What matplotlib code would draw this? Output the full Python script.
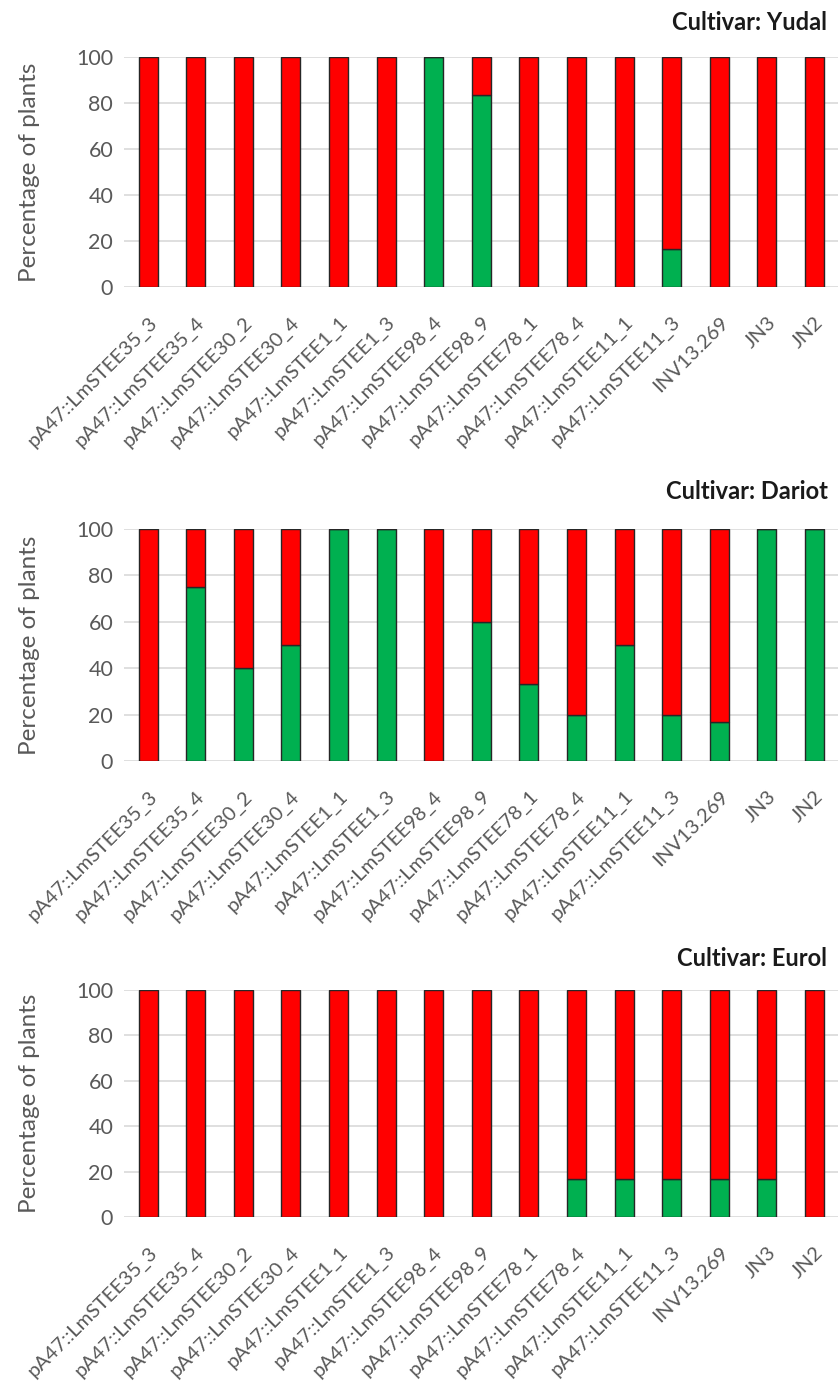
import matplotlib.pyplot as plt
import numpy as np

plt.rcParams['font.family'] = ['Lato', 'DejaVu Sans']

categories = ['pA47::LmSTEE35_3', 'pA47::LmSTEE35_4', 'pA47::LmSTEE30_2', 'pA47::LmSTEE30_4',
              'pA47::LmSTEE1_1', 'pA47::LmSTEE1_3', 'pA47::LmSTEE98_4', 'pA47::LmSTEE98_9',
              'pA47::LmSTEE78_1', 'pA47::LmSTEE78_4', 'pA47::LmSTEE11_1', 'pA47::LmSTEE11_3',
              'INV13.269', 'JN3', 'JN2']

# green part (bottom) per cultivar, red part is the rest up to 100
yudal_green = [0, 0, 0, 0, 0, 0, 100, 83.3, 0, 0, 0, 16.7, 0, 0, 0]
dariot_green = [0, 75, 40, 50, 100, 100, 0, 60, 33.3, 20, 50, 20, 16.7, 100, 100]
eurol_green = [0, 0, 0, 0, 0, 0, 0, 0, 0, 16.7, 16.7, 16.7, 16.7, 16.7, 0]

titles = ['Cultivar: Yudal', 'Cultivar: Dariot', 'Cultivar: Eurol']
yticks = [0, 20, 40, 60, 80, 100]

fig = plt.figure(figsize=(8.4, 13.85), dpi=100)
# [left, bottom, width, height] in figure fractions
boxes = [[0.148, 0.7928, 0.850, 0.166],
         [0.148, 0.4505, 0.850, 0.1675],
         [0.148, 0.1213, 0.850, 0.1639]]
title_y = [0.984, 0.645, 0.308]

grey = '#595959'
for box, green, title, ty in zip(boxes, [yudal_green, dariot_green, eurol_green], titles, title_y):
    ax = fig.add_axes(box)
    x = np.arange(len(categories))
    g = np.array(green)
    r = 100 - g
    ax.bar(x, g, width=0.4, color='#00b050', edgecolor='#262626', linewidth=1, zorder=3)
    ax.bar(x, r, bottom=g, width=0.4, color='#ff0000', edgecolor='#262626', linewidth=1, zorder=3)
    ax.set_xlim(-0.5, len(categories) - 0.5)
    ax.set_ylim(0, 100)
    ax.set_yticks(yticks)
    ax.yaxis.grid(True, color='#d9d9d9', linewidth=1.2, zorder=0)
    ax.set_axisbelow(True)
    for s in ax.spines.values():
        s.set_visible(False)
    ax.tick_params(axis='both', length=0, colors=grey)
    ax.tick_params(axis='y', pad=8, labelsize=15.5)
    ax.set_xticks(x)
    ax.set_xticklabels(categories, rotation=45, ha='right', rotation_mode='anchor', fontsize=14.5)
    ax.tick_params(axis='x', pad=19)
    ax.set_ylabel('Percentage of plants', color=grey, fontsize=17.5, labelpad=26)
    fig.text(0.985, ty, title, ha='right', va='center', fontsize=17, fontweight='bold', color='#1a1a1a')

fig.savefig('out.png', dpi=100)
